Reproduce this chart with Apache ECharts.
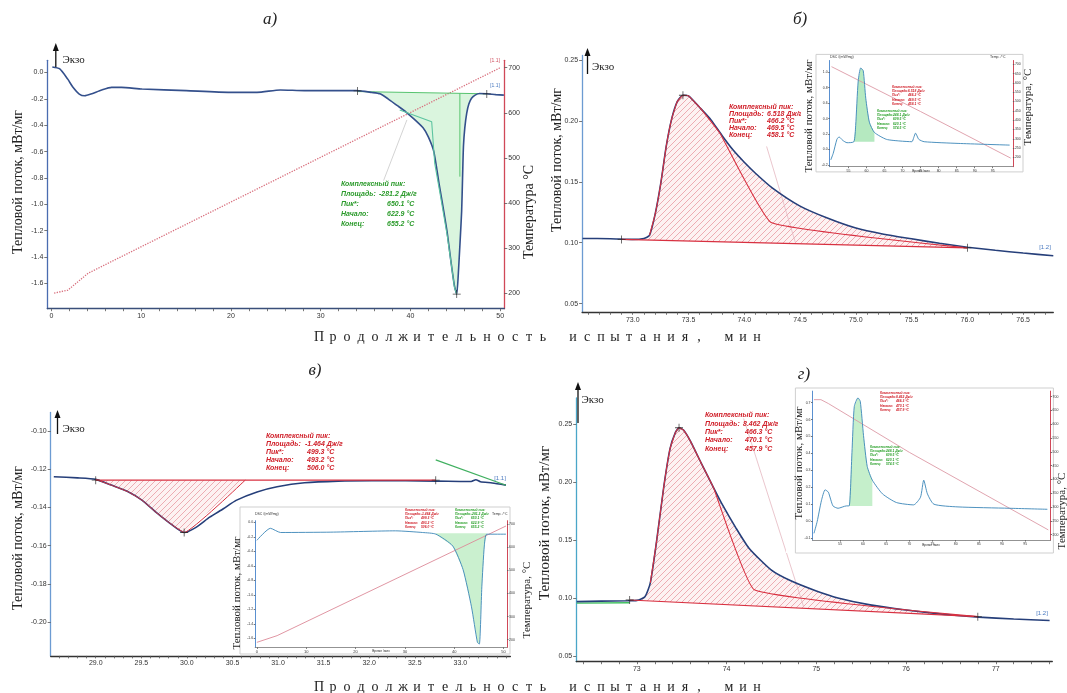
<!DOCTYPE html>
<html>
<head>
<meta charset="UTF-8">
<title></title>
<script src="https://cdn.jsdelivr.net/npm/echarts@6/dist/echarts.min.js"></script>
<style>
html,body{margin:0;padding:0;background:#fff;}
#chart{width:1067px;height:693px;}
</style>
</head>
<body>
<div id="chart"></div>
<script type="text/javascript">
// ---------- panel а) : heat flow + temperature, 0..50 min
var aTime = [0.1,0.9,1.8,2.4,3.1,3.7,4.4,5.6,6.7,7.8,10.1,15,19.9,22.9,25.5,28.2,30.4,34,35.7,36.6,37.5,38.5,39.5,40.5,41.4,42.0,42.6,43.2,43.7,44.1,44.5,44.9,45.15,45.35,45.55,45.7,45.8,45.9,46.05,46.26,46.5,46.8,47.2,47.7,48.5,49.5,50.4];
var aFlow = [0.041,0.028,-0.049,-0.113,-0.164,-0.177,-0.164,-0.133,-0.113,-0.113,-0.126,-0.138,-0.151,-0.151,-0.133,-0.138,-0.138,-0.138,-0.152,-0.162,-0.2,-0.25,-0.3,-0.36,-0.42,-0.49,-0.6,-0.85,-1.05,-1.22,-1.43,-1.62,-1.68,-1.5,-1.25,-1.05,-0.8,-0.56,-0.42,-0.31,-0.24,-0.196,-0.172,-0.16,-0.162,-0.168,-0.172];
var aTempTime = [0.3,1.8,4.1,50];
var aTemp = [201,207,245,700];
var aBaseX = [34.1,48.5], aBaseY = [-0.145,-0.162];
var aTanX = [38.8,42.36,42.7,43.3,44.1,44.9,45.15], aTanY = [-0.285,-0.374,-0.69,-0.92,-1.24,-1.63,-1.68];
var aVertX = [45.5,45.5], aVertY = [-0.158,-0.79];
var aLinkX = [37.0,39.6], aLinkY = [-0.82,-0.36];
var aMarkX = [34.1,45.15,48.5], aMarkY = [-0.14,-1.68,-0.163];
var aXTicks = [0,10,20,30,40,50];
var aYTicks = [0,-0.2,-0.4,-0.6,-0.8,-1.0,-1.2,-1.4,-1.6];
var aTTicks = [200,300,400,500,600,700];
var aNote = ['Комплексный пик:','Площадь:','Пик*:','Начало:','Конец:'];
var aNoteVal = ['','-281.2 Дж/г','650.1 °C','622.9 °C','655.2 °C'];

// ---------- panel б)
var bTime = [72.55,72.8,73.0,73.1,73.15,73.2,73.25,73.3,73.35,73.4,73.45,73.5,73.6,73.7,73.8,73.9,74.0,74.1,74.25,74.5,74.75,75.0,75.25,75.5,75.75,76.0,76.25,76.5,76.77];
var bFlow = [0.1035,0.1033,0.1027,0.1035,0.106,0.123,0.148,0.179,0.202,0.216,0.221,0.2205,0.211,0.201,0.188,0.176,0.166,0.157,0.145,0.13,0.12,0.112,0.107,0.1032,0.0995,0.0963,0.0938,0.0915,0.0893];
var bBaseX = [72.9,76.0], bBaseY = [0.1027,0.0958];
var bTanX = [73.78,74.24,76.0], bTanY = [0.19,0.1166,0.0958];
var bLinkX = [74.2,74.46], bLinkY = [0.179,0.0995];
var bMarkX = [72.9,73.45,76.0], bMarkY = [0.1027,0.221,0.0958];
var bXTicks = [73.0,73.5,74.0,74.5,75.0,75.5,76.0,76.5];
var bYTicks = [0.05,0.10,0.15,0.20,0.25];
var bNoteVal = ['','6.518 Дж/г','466.2 °C','469.5 °C','458.1 °C'];

// ---------- panel в)
var cTime = [28.54,28.8,29.0,29.17,29.36,29.51,29.66,29.8,29.97,30.1,30.25,30.4,30.54,30.77,30.99,31.29,31.66,32.03,32.4,32.73,33.0,33.12,33.17,33.22,33.35,33.5];
var cFlow = [-0.1239,-0.1245,-0.1253,-0.1283,-0.1319,-0.1363,-0.1425,-0.1478,-0.1531,-0.1504,-0.1451,-0.1407,-0.1363,-0.1319,-0.1292,-0.1271,-0.1262,-0.126,-0.126,-0.1262,-0.1264,-0.1264,-0.1255,-0.1265,-0.1272,-0.1283];
var cBaseX = [29.0,32.73], cBaseY = [-0.1257,-0.1257];
var cTanX = [29.97,30.64], cTanY = [-0.1531,-0.1257];
var cGreenX = [32.73,33.5], cGreenY = [-0.1151,-0.1284];
var cMarkX = [29.0,29.97,32.73], cMarkY = [-0.1257,-0.1531,-0.1257];
var cXTicks = [29.0,29.5,30.0,30.5,31.0,31.5,32.0,32.5,33.0];
var cYTicks = [-0.10,-0.12,-0.14,-0.16,-0.18,-0.20];
var cNoteVal = ['','-1.464 Дж/г','499.3 °C','493.2 °C','506.0 °C'];

// ---------- panel г)
var dTime = [72.33,72.6,72.9,73.0,73.09,73.15,73.22,73.3,73.37,73.43,73.47,73.52,73.6,73.72,73.85,73.95,74.1,74.25,74.5,74.71,75.0,75.24,75.6,76.0,76.4,76.81,77.2,77.6];
var dFlow = [0.0968,0.0972,0.0976,0.0979,0.101,0.113,0.149,0.196,0.229,0.243,0.247,0.245,0.235,0.216,0.196,0.181,0.161,0.143,0.124,0.115,0.106,0.1,0.094,0.0895,0.086,0.0834,0.0818,0.0805];
var dBaseX = [72.92,76.8], dBaseY = [0.0982,0.0838];
var dTanX = [73.85,74.31,76.8], dTanY = [0.196,0.107,0.0838];
var dGreenX = [72.33,72.92], dGreenY = [0.0955,0.0958];
var dLinkX = [74.19,74.86], dLinkY = [0.255,0.092];
var dMarkX = [72.92,73.47,76.8], dMarkY = [0.0982,0.247,0.0838];
var dXTicks = [73,74,75,76,77];
var dYTicks = [0.05,0.10,0.15,0.20,0.25];
var dNoteVal = ['','8.462 Дж/г','466.3 °C','470.1 °C','457.9 °C'];

// ---------- insets (whole runs)
var ibTime = [50.1,50.8,51.8,52.4,53.4,54.6,56.5,57.0,57.7,58.4,59.1,59.8,60.8,62.2,65.5,69.3,72.6,73.1,73.6,74.5,76.0,85.4,99.7];
var ibFlow = [-0.136,-0.047,0.131,0.162,0.118,0.087,0.1,0.309,0.887,1.056,1.02,0.664,0.353,0.22,0.131,0.109,0.1,0.153,0.211,0.131,0.1,0.078,0.056];
var ibTempTime = [50.3,75,100], ibTemp = [687,446,196];
var icTime = [0,2.74,4.8,15,28.1,33.6,36.3,39.7,41.8,43.5,44.7,45.1,45.6,46.1,46.6,50.5];
var icFlow = [-0.248,-0.082,-0.14,-0.135,-0.117,-0.14,-0.163,-0.326,-0.653,-1.166,-1.656,-1.68,-0.89,-0.326,-0.163,-0.163];
var icTempTime = [0,4.1,50.5], icTemp = [188,217,693];
var idTime = [49.4,50.1,51.0,51.8,52.5,53.5,54.6,56.4,57.0,57.6,58.1,58.9,59.4,60.1,60.9,62.0,64.2,67.2,70.9,72.4,73.1,73.9,75.3,80.5,91.6,99.8];
var idFlow = [-0.072,-0.001,0.12,0.185,0.171,0.09,0.076,0.09,0.09,0.404,0.677,0.728,0.707,0.505,0.323,0.242,0.161,0.11,0.096,0.141,0.242,0.161,0.1,0.084,0.076,0.07];
var idTempTime = [49.4,50.9,52.5,70,100], idTemp = [689,689,675,498,217];
var inXTicks = [55,60,65,70,75,80,85,90,95];
var ibYTicks = [-0.2,0,0.2,0.4,0.6,0.8,1.0];
var idYTicks = [-0.1,0,0.1,0.2,0.3,0.4,0.5,0.6,0.7];
var inTTicks = [200,250,300,350,400,450,500,550,600,650,700];
var greenNote = ['Комплексный пик:','Площадь:','Пик*:','Начало:','Конец:'];
var greenNoteVal = ['','248.1 Дж/г','609.5 °C','620.1 °C','574.5 °C'];

function pair(xs, ys) { return xs.map(function (x, i) { return [x, ys[i]]; }); }
function slice(xs, ys, x1, x2) { return pair(xs, ys).filter(function (p) { return p[0] >= x1 && p[0] <= x2; }); }
function range(a, b, s) { var r = []; for (var v = a; v <= b + 1e-9; v += s) r.push(Math.round(v * 1000) / 1000); return r; }

function hatch() {
	var c = document.createElement('canvas');
	c.width = 6; c.height = 6;
	var g = c.getContext('2d');
	g.fillStyle = 'rgba(252,234,234,0.6)'; g.fillRect(0, 0, 6, 6);
	g.strokeStyle = '#e89aa3'; g.lineWidth = 0.8;
	g.beginPath(); g.moveTo(0, 6); g.lineTo(6, 0); g.moveTo(-1, 1); g.lineTo(1, -1); g.moveTo(5, 7); g.lineTo(7, 5); g.stroke();
	return { image: c, repeat: 'repeat' };
}
var hatchFill = hatch();

function vAxis(o) {
	return {
		type: 'value', gridIndex: o.g, min: o.min, max: o.max, position: o.pos, z: o.z || 0,
		axisLine: { show: true, onZero: false, lineStyle: { color: o.color, width: o.lw || 1.3 } },
		axisTick: { show: true, customValues: o.ticks, length: o.tl || 3, lineStyle: { color: '#555', width: 0.8 } },
		axisLabel: { show: true, customValues: o.labels, formatter: function (v) { return o.dec == null ? String(v) : v.toFixed(o.dec); },
			fontSize: o.fs || 7, color: '#333', margin: o.margin || 4, fontFamily: 'Liberation Sans' },
		splitLine: { show: false }
	};
}
function line(xi, yi, data, color, w, extra) {
	var s = { type: 'line', xAxisIndex: xi, yAxisIndex: yi, data: data, symbol: 'none', silent: true,
		lineStyle: { color: color, width: w }, z: 3, animation: false };
	for (var k in extra) s[k] = extra[k];
	return s;
}
function poly(xi, yi, pts, fill, z) {
	return { type: 'custom', xAxisIndex: xi, yAxisIndex: yi, z: z || 2, silent: true, data: [pts[0]],
		renderItem: function (p, api) {
			return { type: 'polygon', shape: { points: pts.map(function (q) { return api.coord(q); }) }, style: { fill: fill, stroke: null } };
		} };
}
var plusPath = 'path://M-0.4,-4H0.4V-0.4H4V0.4H0.4V4H-0.4V0.4H-4V-0.4H-0.4Z';
function marks(xi, yi, xs, ys) {
	return { type: 'scatter', xAxisIndex: xi, yAxisIndex: yi, data: pair(xs, ys), symbol: plusPath, symbolSize: 8,
		itemStyle: { color: '#222' }, z: 4, silent: true };
}

// ---------- graphic helpers
var G = [];
function txt(x, y, s, font, color, align, z, rot) {
	G.push({ type: 'text', x: x, y: y, rotation: rot || 0, z: z || 5,
		style: { text: s, font: font, fill: color, textAlign: align || 'left', textVerticalAlign: 'middle' } });
}
function note(x, xv, ys, labels, vals, color, size, z) {
	var f = 'italic bold ' + size + 'px "Liberation Sans"';
	labels.forEach(function (l, i) {
		txt(x, ys[i], l, f, color, 'left', z);
		if (vals[i]) txt(xv[i], ys[i], vals[i], f, color, 'left', z);
	});
}
function exo(x, yTop, yBot, tx, ty) {
	G.push({ type: 'line', z: 5, shape: { x1: x, y1: yBot, x2: x, y2: yTop + 4 }, style: { stroke: '#111', lineWidth: 1.3 } });
	G.push({ type: 'polygon', z: 5, shape: { points: [[x - 3, yTop + 8], [x, yTop], [x + 3, yTop + 8]] }, style: { fill: '#111' } });
	txt(tx, ty, 'Экзо', '11px "Liberation Serif"', '#222', 'left', 5);
}
function spaced(str, x0, y) {
	var x = x0;
	for (var i = 0; i < str.length; i++) {
		if (str[i] === ' ') { x += 16; continue; }
		txt(x, y, str[i], '14px "Liberation Serif"', '#222', 'center', 5);
		x += 14;
	}
}
function box(x, y, w, h, bx, bw) {
	G.push({ type: 'rect', z: 9, shape: { x: x, y: y, width: w, height: h }, style: { fill: '#fff' } });
	G.push({ type: 'rect', z: 9, shape: { x: bx, y: y, width: bw, height: h }, style: { fill: '#fff', stroke: '#cfcfcf', lineWidth: 1 } });
}

var serif14 = '14px "Liberation Serif"';
var serif11 = '11px "Liberation Serif"';
var R90 = Math.PI / 2;

// panel captions
txt(270, 20, 'а)', 'italic 17px "Liberation Serif"', '#222', 'center');
txt(800, 20, 'б)', 'italic 17px "Liberation Serif"', '#222', 'center');
txt(315, 371, 'в)', 'italic 17px "Liberation Serif"', '#222', 'center');
txt(804, 375, 'г)', 'italic 17px "Liberation Serif"', '#222', 'center');
spaced('Продолжительность испытания, мин', 319, 337);
spaced('Продолжительность испытания, мин', 319, 687);

// axis titles of the main panels
txt(18, 182, 'Тепловой поток, мВт/мг', serif14, '#222', 'center', 5, R90);
txt(529, 212, 'Температура °С', serif14, '#222', 'center', 5, R90);
txt(557, 160, 'Тепловой поток, мВт/мг', serif14, '#222', 'center', 5, R90);
txt(18, 538, 'Тепловой поток, мВт/мг', serif14, '#222', 'center', 5, R90);
txt(545, 523, 'Тепловой поток, мВт/мг', '15px "Liberation Serif"', '#222', 'center', 5, R90);

exo(55.8, 43, 67, 62.5, 60);
exo(587.5, 48, 74, 592, 67);
exo(57.5, 410, 434, 62.5, 429);
exo(578, 382, 423, 581.5, 400);

note(341, [379, 379, 387, 387, 387], [184, 194.5, 204.5, 214.5, 224.5], aNote, aNoteVal, '#2a9a2a', 7);
note(729, [767, 767, 767, 767, 767], [106.7, 114, 121, 128.3, 135], aNote, bNoteVal, '#d0202a', 7);
note(266, [305, 305, 307, 307, 307], [436, 444, 452, 460, 467.7], aNote, cNoteVal, '#d0202a', 7);
note(705, [743, 743, 745, 745, 745], [415, 423.6, 432.2, 439.7, 448.6], aNote, dNoteVal, '#d0202a', 7);

txt(495, 86, '[1.1]', '5px "Liberation Sans"', '#4a7ac0', 'center');
txt(495, 61, '[1.1]', '5px "Liberation Sans"', '#d05060', 'center');
txt(1045, 247, '[1.2]', '6px "Liberation Sans"', '#4a7ac0', 'center');
txt(500, 478, '[1.1]', '6px "Liberation Sans"', '#4a7ac0', 'center');
txt(1042, 613, '[1.2]', '6px "Liberation Sans"', '#4a7ac0', 'center');

// insets: white cards, titles, tiny notes
box(801, 54.4, 224, 117.5, 816, 207);
box(228, 507, 292, 147, 240, 270);
box(786, 388, 281, 165, 795.4, 258);
var tiny = 'italic bold 3.3px "Liberation Sans"';
function tinyNote(x, y0, labels, vals, color) {
	labels.forEach(function (l, i) {
		txt(x, y0 + i * 4.2, l, tiny, color, 'left', 13);
		if (vals[i]) txt(x + 16, y0 + i * 4.2, vals[i], tiny, color, 'left', 13);
	});
}
txt(809, 116, 'Тепловой поток, мВт/мг', serif11, '#222', 'center', 13, R90);
txt(1028, 107, 'Температура, °С', serif11, '#222', 'center', 13, R90);
tinyNote(892, 87, aNote, bNoteVal, '#d0202a');
tinyNote(877, 111, greenNote, greenNoteVal, '#2aa02a');
txt(237, 593, 'Тепловой поток, мВт/мг', serif11, '#222', 'center', 13, R90);
txt(527, 600, 'Температура, °С', serif11, '#222', 'center', 13, R90);
tinyNote(405, 510, aNote, cNoteVal, '#d0202a');
tinyNote(455, 510, aNote, aNoteVal, '#2aa02a');
txt(799, 463, 'Тепловой поток, мВт/мг', serif11, '#222', 'center', 13, R90);
txt(1062, 511, 'Температура, °С', serif11, '#222', 'center', 13, R90);
tinyNote(880, 393, aNote, dNoteVal, '#d0202a');
tinyNote(870, 447, greenNote, greenNoteVal, '#2aa02a');
txt(830, 57.5, 'DSC /(mW/mg)', '3.5px "Liberation Sans"', '#333', 'left', 13);
txt(255, 514, 'DSC /(mW/mg)', '3.5px "Liberation Sans"', '#333', 'left', 13);
txt(990, 57.5, 'Temp. /°C', '3.5px "Liberation Sans"', '#333', 'left', 13);
txt(492, 514, 'Temp. /°C', '3.5px "Liberation Sans"', '#333', 'left', 13);
txt(921, 171, 'Время /мин', '3.3px "Liberation Sans"', '#333', 'center', 13);
txt(381, 651, 'Время /мин', '3.3px "Liberation Sans"', '#333', 'center', 13);
txt(931, 545, 'Время /мин', '3.3px "Liberation Sans"', '#333', 'center', 13);

var greenFill = 'rgba(150,225,160,0.35)';
var purpleArea = function (x1, y1, x2, y2) {
	return { silent: true, itemStyle: { color: 'rgba(95,70,200,0.72)', borderColor: '#5a48c0', borderWidth: 0.6 },
		data: [[{ xAxis: x1, yAxis: y1 }, { xAxis: x2, yAxis: y2 }]] };
};

var option = {
	animation: false,
	backgroundColor: '#fff',
	grid: [
		{ left: 47.3, top: 60.3, width: 457, height: 248.4 },
		{ left: 582.1, top: 55.4, width: 471.2, height: 256.9 },
		{ left: 50.7, top: 412.5, width: 459.7, height: 243.4 },
		{ left: 576.2, top: 397.9, width: 476.1, height: 263.8 },
		{ left: 829.7, top: 60.5, width: 183.2, height: 106.2 },
		{ left: 255.2, top: 520.7, width: 251.8, height: 126.7 },
		{ left: 812.5, top: 391.1, width: 238.1, height: 149 }
	],
	xAxis: [
		vAxis({ g: 0, min: -0.46, max: 50.45, color: '#3a4f7a', ticks: range(0, 50, 2), labels: aXTicks, dec: null, tl: 2.5 }),
		vAxis({ g: 1, min: 72.546, max: 76.77, color: '#333', ticks: range(72.6, 76.7, 0.1), labels: bXTicks, dec: 1, tl: 2.5 }),
		vAxis({ g: 2, min: 28.506, max: 33.549, color: '#333', ticks: range(28.6, 33.5, 0.1), labels: cXTicks, dec: 1, tl: 2.5 }),
		vAxis({ g: 3, min: 72.324, max: 77.63, color: '#333', ticks: range(72.4, 77.6, 0.2), labels: dXTicks, dec: null, tl: 2.5 }),
		vAxis({ g: 4, min: 49.8, max: 100.6, color: '#777', ticks: inXTicks, labels: inXTicks, fs: 3.5, margin: 2, tl: 1.5, lw: 0.8, z: 12 }),
		vAxis({ g: 5, min: -0.34, max: 50.7, color: '#777', ticks: aXTicks, labels: aXTicks, fs: 4, margin: 2, tl: 1.5, lw: 0.8, z: 12 }),
		vAxis({ g: 6, min: 49.08, max: 100.5, color: '#777', ticks: inXTicks, labels: inXTicks, fs: 3.5, margin: 2, tl: 1.5, lw: 0.8, z: 12 })
	],
	yAxis: [
		vAxis({ g: 0, min: -1.791, max: 0.092, color: '#4a6cb0', ticks: aYTicks, labels: aYTicks, dec: 1 }),
		vAxis({ g: 0, min: 166.3, max: 716.4, pos: 'right', color: '#d04858', ticks: aTTicks, labels: aTTicks }),
		vAxis({ g: 1, min: 0.0429, max: 0.2537, color: '#6c9bd2', ticks: bYTicks, labels: bYTicks, dec: 2 }),
		vAxis({ g: 2, min: -0.2177, max: -0.0903, color: '#6c9bd2', ticks: cYTicks, labels: cYTicks, dec: 2 }),
		vAxis({ g: 3, min: 0.0449, max: 0.2728, color: '#4aa6c8', ticks: dYTicks, labels: dYTicks, dec: 2 }),
		vAxis({ g: 4, min: -0.224, max: 1.153, color: '#5a90d0', ticks: ibYTicks, labels: ibYTicks, dec: 1, fs: 3.5, margin: 2, tl: 1.5, lw: 1, z: 12 }),
		vAxis({ g: 4, min: 150, max: 720, pos: 'right', color: '#d04858', ticks: inTTicks, labels: inTTicks, fs: 3.5, margin: 2, tl: 1.5, lw: 1, z: 12 }),
		vAxis({ g: 5, min: -1.726, max: 0.023, color: '#5a90d0', ticks: aYTicks, labels: aYTicks, dec: 1, fs: 3.5, margin: 2, tl: 1.5, lw: 1, z: 12 }),
		vAxis({ g: 5, min: 166, max: 716, pos: 'right', color: '#d04858', ticks: aTTicks, labels: aTTicks, fs: 3.5, margin: 2, tl: 1.5, lw: 1, z: 12 }),
		vAxis({ g: 6, min: -0.112, max: 0.768, color: '#5a90d0', ticks: idYTicks, labels: idYTicks, dec: 1, fs: 3.5, margin: 2, tl: 1.5, lw: 1, z: 12 }),
		vAxis({ g: 6, min: 180, max: 720, pos: 'right', color: '#d04858', ticks: inTTicks, labels: inTTicks, fs: 3.5, margin: 2, tl: 1.5, lw: 1, z: 12 })
	],
	graphic: { elements: G },
	series: [
		// а)
		line(0, 1, pair(aTempTime, aTemp), '#d8707e', 1.3, { lineStyle: { color: '#d8707e', width: 1.3, type: 'dotted' } }),
		poly(0, 0, slice(aTime, aFlow, 34.1, 48.5).concat([[48.5, aBaseY[1]], [34.1, aBaseY[0]]]), greenFill),
		line(0, 0, pair(aBaseX, aBaseY), '#58c470', 1),
		line(0, 0, pair(aLinkX, aLinkY), '#c8c8c8', 0.8),
		line(0, 0, pair(aTime, aFlow), '#34508c', 1.6, { smooth: 0.2 }),
		line(0, 0, pair(aTanX, aTanY), '#5cc4a0', 1.1),
		line(0, 0, pair(aVertX, aVertY), '#58c470', 1),
		marks(0, 0, aMarkX, aMarkY),
		// б)
		poly(1, 2, slice(bTime, bFlow, 72.9, 76.0).concat([[76.0, bBaseY[1]], [72.9, bBaseY[0]]]), hatchFill),
		line(1, 2, pair(bLinkX, bLinkY), '#e4b8c0', 0.8),
		line(1, 2, pair(bTime, bFlow), '#263f7a', 1.6, { smooth: 0.2 }),
		line(1, 2, pair(bBaseX, bBaseY), '#d83040', 1.2),
		line(1, 2, slice(bTime, bFlow, 73.15, 73.6).concat(pair(bTanX, bTanY)), '#d83040', 1.1, { smooth: 0.1 }),
		marks(1, 2, bMarkX, bMarkY),
		// в)
		poly(2, 3, slice(cTime, cFlow, 29.0, 29.97).concat([[cTanX[1], cTanY[1]], [29.0, cBaseY[0]]]), hatchFill),
		line(2, 3, pair(cTime, cFlow), '#263f7a', 1.6, { smooth: 0.2 }),
		line(2, 3, pair(cBaseX, cBaseY), '#d83040', 1.2),
		line(2, 3, slice(cTime, cFlow, 29.0, 29.97).concat([[cTanX[1], cTanY[1]]]), '#d83040', 1, { smooth: 0.1 }),
		line(2, 3, pair(cGreenX, cGreenY), '#40b060', 1.2),
		marks(2, 3, cMarkX, cMarkY),
		// г)
		poly(3, 4, slice(dTime, dFlow, 72.92, 76.8).concat([[76.8, dBaseY[1]], [72.92, dBaseY[0]]]), hatchFill),
		line(3, 4, pair(dLinkX, dLinkY), '#e4b8c0', 0.8),
		line(3, 4, pair(dGreenX, dGreenY), '#40c060', 1.4),
		line(3, 4, pair(dTime, dFlow), '#263f7a', 1.6, { smooth: 0.2 }),
		line(3, 4, pair(dBaseX, dBaseY), '#d83040', 1.2),
		line(3, 4, slice(dTime, dFlow, 73.1, 73.8).concat(pair(dTanX, dTanY)), '#d83040', 1.1, { smooth: 0.1 }),
		marks(3, 4, dMarkX, dMarkY),
		// inset б
		poly(4, 5, slice(ibTime, ibFlow, 56.5, 62.2).concat([[62.2, 0.1], [56.5, 0.1]]), 'rgba(120,215,140,0.55)', 11),
		line(4, 6, pair(ibTempTime, ibTemp), '#dc9aa6', 0.9, { z: 11 }),
		line(4, 5, pair(ibTime, ibFlow), '#3a86b8', 0.9, { z: 11, smooth: 0.2, markArea: purpleArea(72.5, 0.05, 76.8, 0.25) }),
		// inset в
		poly(5, 7, slice(icTime, icFlow, 36.3, 46.6).concat([[46.6, -0.15], [36.3, -0.15]]), 'rgba(150,225,160,0.5)', 11),
		line(5, 8, pair(icTempTime, icTemp), '#dc8a98', 0.9, { z: 11 }),
		line(5, 7, pair(icTime, icFlow), '#3a86b8', 0.9, { z: 11, smooth: 0.2, markArea: purpleArea(28.6, -0.245, 33.6, -0.117) }),
		// inset г
		poly(6, 9, slice(idTime, idFlow, 56.9, 62.0).concat([[62.0, 0.09], [56.9, 0.09]]), 'rgba(150,225,160,0.55)', 11),
		line(6, 10, pair(idTempTime, idTemp), '#dc9aa6', 0.9, { z: 11 }),
		line(6, 9, pair(idTime, idFlow), '#3a86b8', 0.9, { z: 11, smooth: 0.2, markArea: purpleArea(72.3, 0.07, 77.3, 0.255) })
	]
};
var myChart = echarts.init(document.getElementById('chart'));
myChart.setOption(option);
</script>
</body>
</html>
